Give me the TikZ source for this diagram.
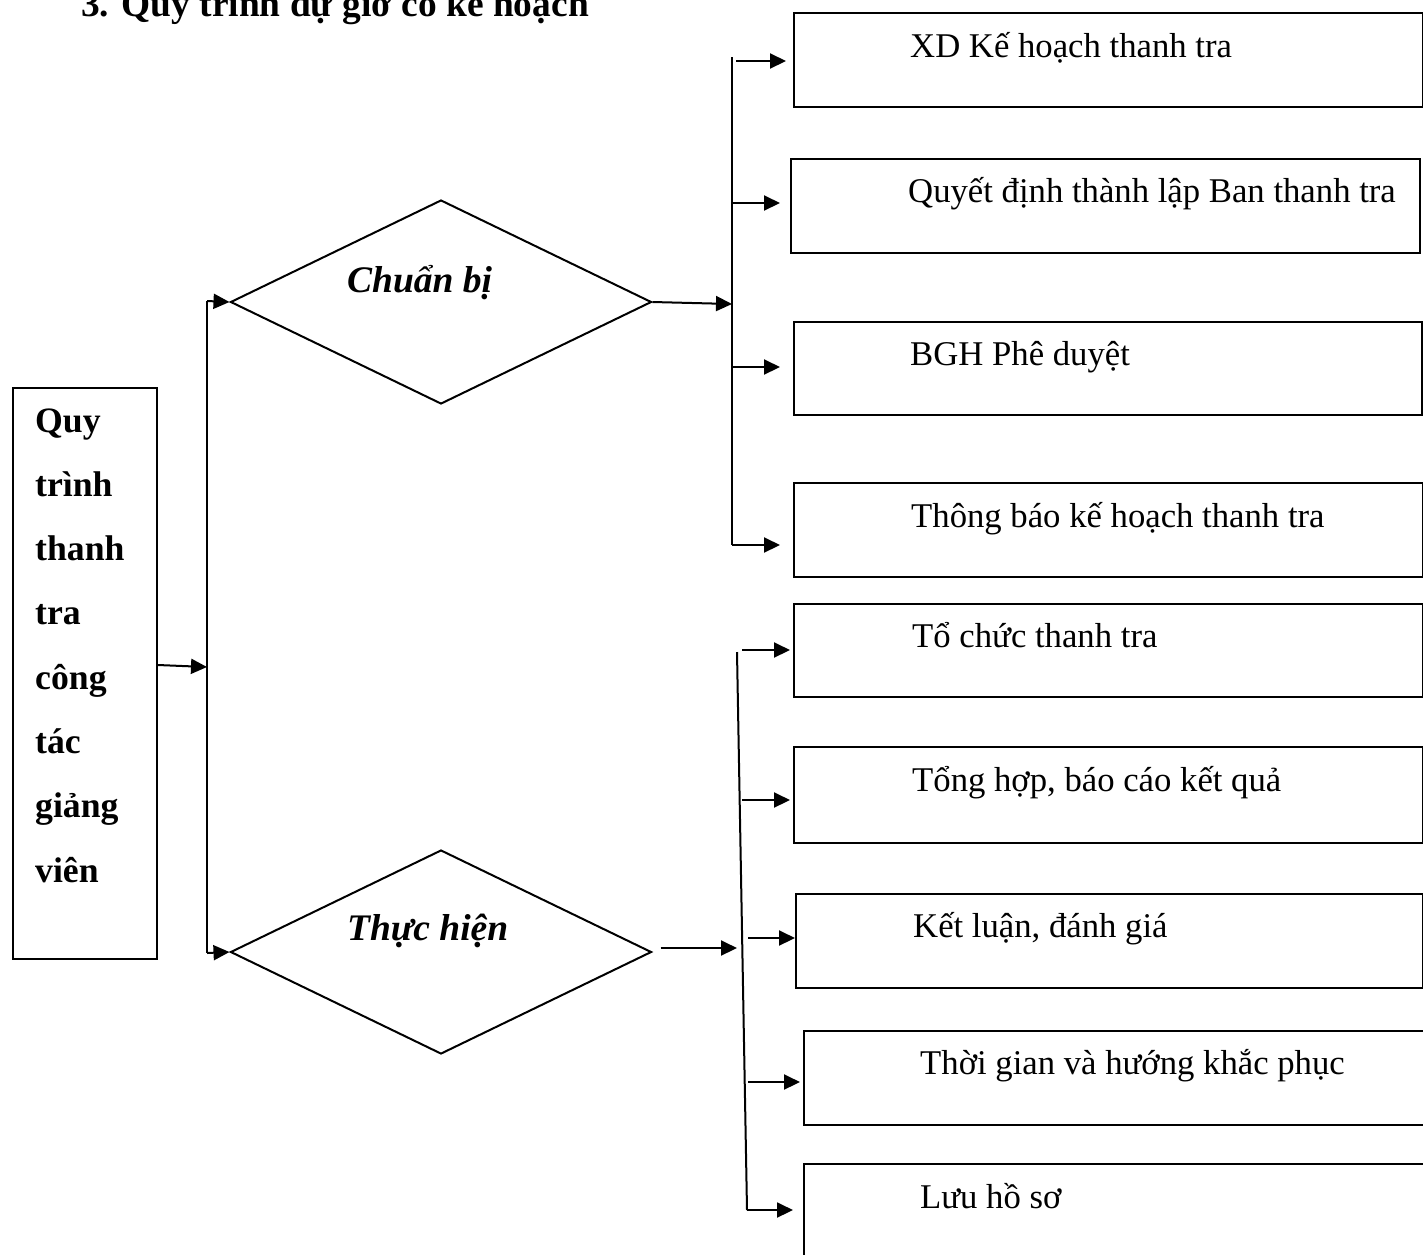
\documentclass[tikz,border=0pt]{standalone}
\usepackage{fontspec}
\setmainfont{Liberation Serif}
\usetikzlibrary{arrows.meta,shapes.geometric}
\tikzset{
  ln/.style={line width=2pt},
  arr/.style={line width=2pt,-{Triangle[length=16pt,width=15pt]}},
  boxn/.style={draw,line width=2pt,rectangle,anchor=north west,inner sep=0pt},
  dia/.style={draw,line width=2pt,diamond,inner sep=0pt,minimum width=421pt,minimum height=204pt,aspect=2.06},
  txt/.style={anchor=base west,inner sep=0pt,font=\fontsize{34.7}{40}\selectfont},
  btxt/.style={txt,font=\fontsize{35.7}{40}\selectfont\bfseries},
  itxt/.style={txt,font=\fontsize{37.5}{40}\selectfont\bfseries\itshape},
}
\begin{document}
\begin{tikzpicture}[x=1pt,y=-1pt]
\useasboundingbox (0,0) rectangle (1423,1254);
% title (cut at top, as in the reference)
\node[txt,font=\fontsize{37.4}{42}\selectfont\bfseries] (title) at (81,16) {3. Quy trình dự giờ có kế hoạch};
% left box
\node[boxn,minimum width=144pt,minimum height=571pt] (L) at (12,387) {};
\foreach \w [count=\i from 0] in {Quy,trình,thanh,tra,công,tác,giảng,viên}
  \node[btxt] (Lt\i) at (35,432+64.3*\i) {\w};
% diamonds
\node[dia] (D1) at (441,302) {};
\node[itxt] (D1t) at (347,292) {Chuẩn bị};
\node[dia] (D2) at (441,952) {};
\node[itxt] (D2t) at (347,940) {Thực hiện};
% boxes
\node[boxn,minimum width=629pt,minimum height=94pt] (b1) at (793,12) {};
\node[boxn,minimum width=629pt,minimum height=94pt] (b2) at (790,158) {};
\node[boxn,minimum width=628pt,minimum height=93pt] (b3) at (793,321) {};
\node[boxn,minimum width=629pt,minimum height=94pt] (b4) at (793,482) {};
\node[boxn,minimum width=629pt,minimum height=93pt] (b5) at (793,603) {};
\node[boxn,minimum width=629pt,minimum height=96pt] (b6) at (793,746) {};
\node[boxn,minimum width=627pt,minimum height=94pt] (b7) at (795,893) {};
\node[boxn,minimum width=660pt,minimum height=94pt] (b8) at (803,1030) {};
\node[boxn,minimum width=660pt,minimum height=140pt] (b9) at (803,1163) {};
\node[txt] (t1) at (910,57) {XD Kế hoạch thanh tra};
\node[txt] (t2) at (908,202) {Quyết định thành lập Ban thanh tra};
\node[txt] (t3) at (910,365) {BGH Phê duyệt};
\node[txt] (t4) at (911,527) {Thông báo kế hoạch thanh tra};
\node[txt] (t5) at (912,647) {Tổ chức thanh tra};
\node[txt] (t6) at (912,791) {Tổng hợp, báo cáo kết quả};
\node[txt] (t7) at (913,937) {Kết luận, đánh giá};
\node[txt] (t8) at (920,1074) {Thời gian và hướng khắc phục};
\node[txt] (t9) at (920,1208) {Lưu hồ sơ};
% left bracket
\coordinate (vt) at (207,301);
\coordinate (vb) at (207,953);
\coordinate (vm) at (207,667);
\draw[ln] (vt) -- (vb);
\draw[arr] (vt) -- (D1.west);
\draw[arr] (vb) -- (D2.west);
\draw[arr] (L.east |- 0,665) -- (vm);
% upper bracket
\coordinate (ut) at (732,57);
\coordinate (ub) at (732,545);
\coordinate (um) at (732,304);
\draw[arr] (D1.east) -- (um);
\draw[ln] (ut) -- (ub);
\draw[arr] (736,61) -- ([xshift=-7pt]b1.west |- 0,61);
\draw[arr] (732,203) -- ([xshift=-10pt]b2.west |- 0,203);
\draw[arr] (732,367) -- ([xshift=-13pt]b3.west |- 0,367);
\draw[arr] (ub) -- ([xshift=-13pt]b4.west |- ub);
% lower bracket
\coordinate (lt) at (737,652);
\coordinate (lb) at (747,1210);
\coordinate (lm) at (737,948);
\draw[arr] ([xshift=8pt]D2.east |- lm) -- (lm);
\draw[ln] (lt) -- (lb);
\draw[arr] (742,650) -- ([xshift=-3pt]b5.west |- 0,650);
\draw[arr] (742,800) -- ([xshift=-3pt]b6.west |- 0,800);
\draw[arr] (748,938) -- (b7.west |- 0,938);
\draw[arr] (748,1082) -- ([xshift=-3pt]b8.west |- 0,1082);
\draw[arr] (lb) -- ([xshift=-10pt]b9.west |- lb);
\end{tikzpicture}
\end{document}
